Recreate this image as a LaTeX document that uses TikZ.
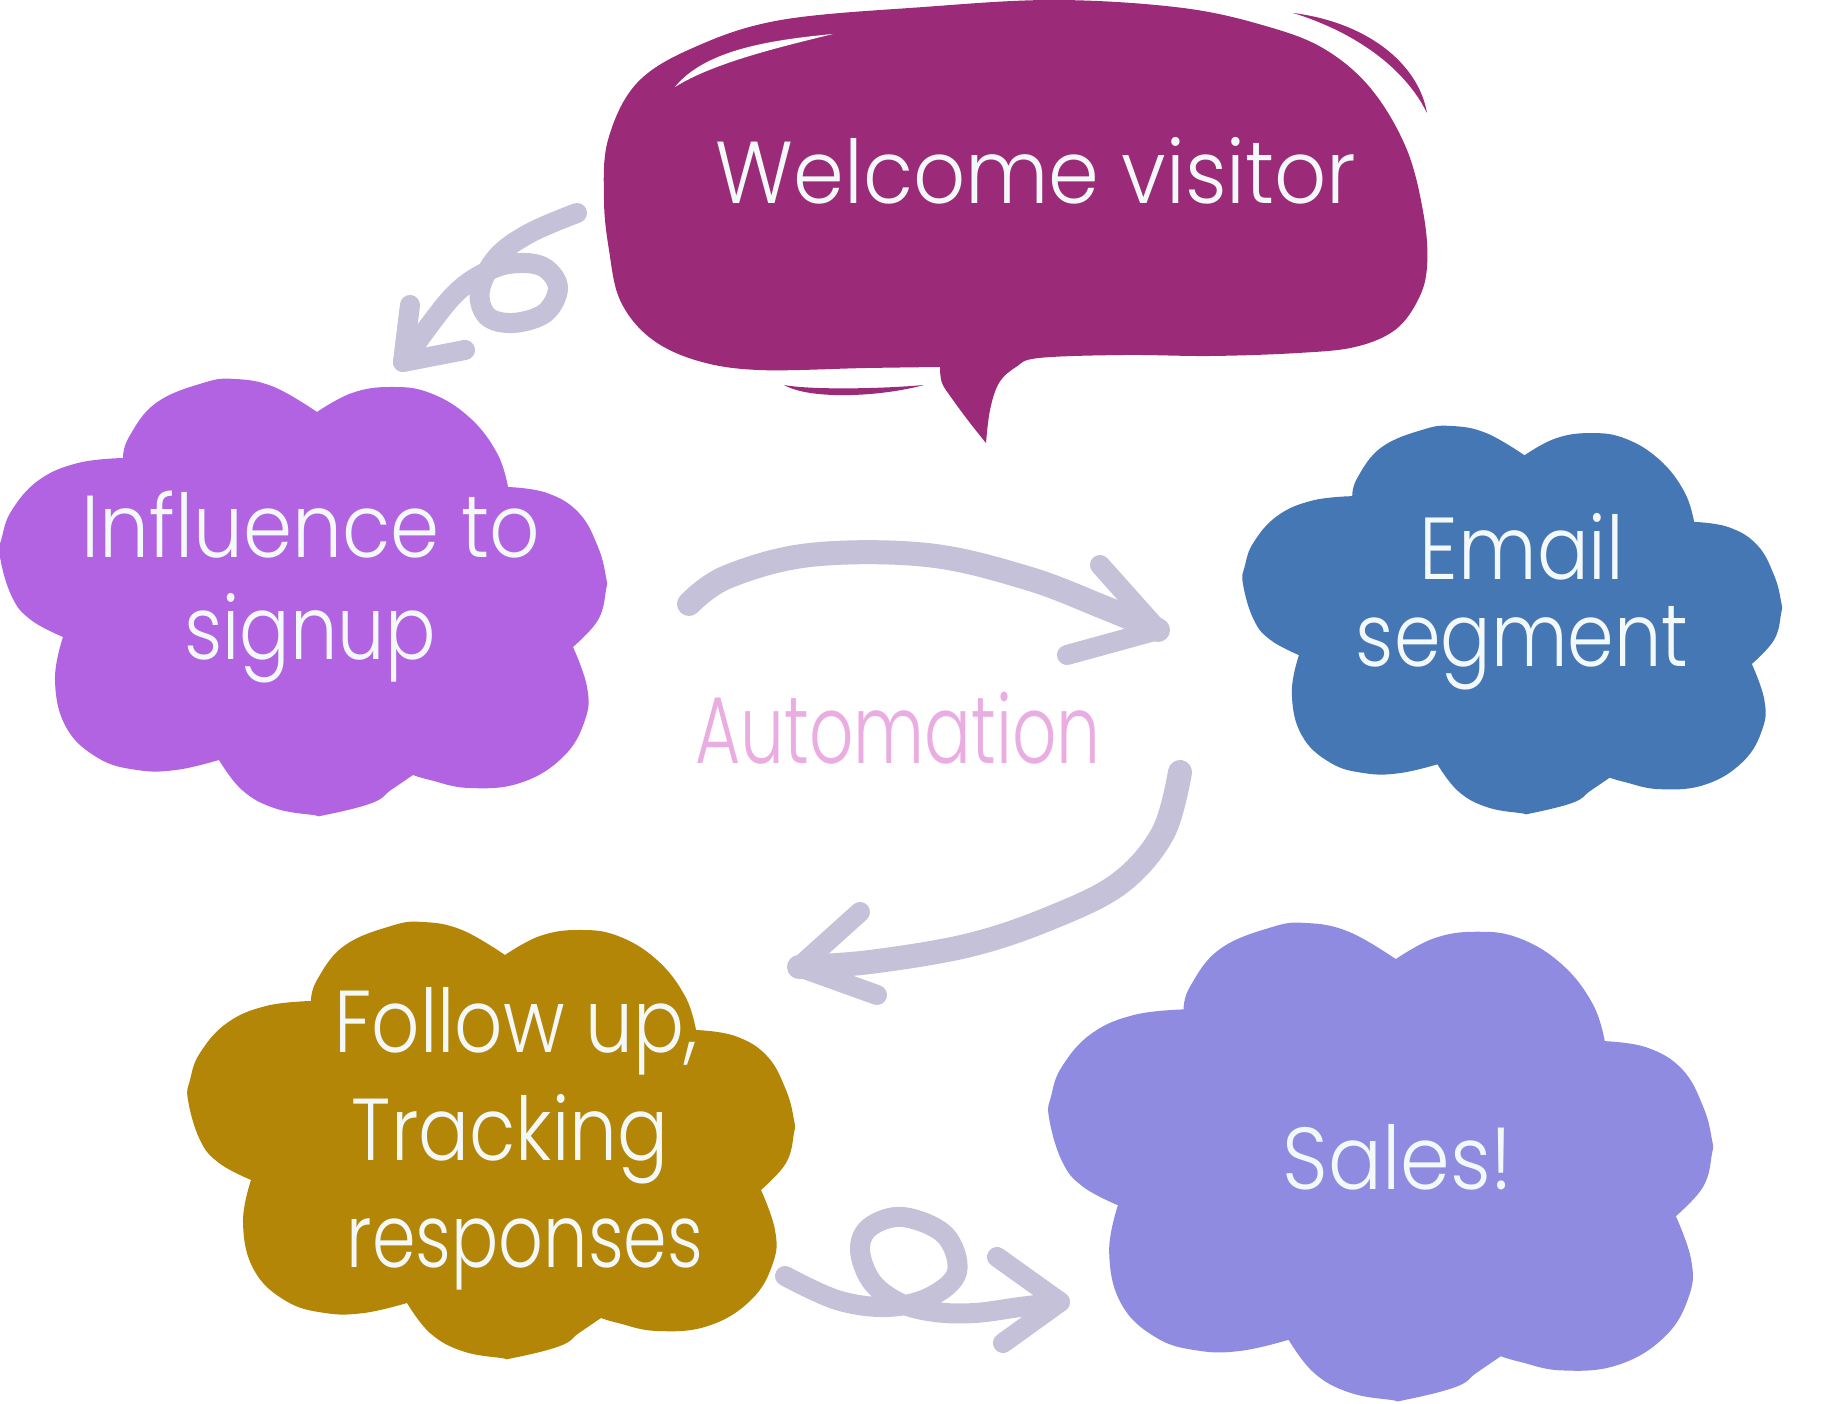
\documentclass[tikz,border=0pt]{standalone}
\usepackage{graphicx}
\usepackage{fontspec}
\setmainfont{Poppins Light}
\definecolor{bubblecol}{HTML}{9B2A78}
\definecolor{cloudA}{HTML}{B263E2}
\definecolor{cloudB}{HTML}{4577B5}
\definecolor{cloudC}{HTML}{B38607}
\definecolor{cloudD}{HTML}{8F8BE0}
\definecolor{arrowcol}{HTML}{C5C1D9}
\definecolor{autocol}{HTML}{E9ADE1}
\definecolor{txtcol}{HTML}{F3F8F8}
\newcommand{\fitw}[2]{\resizebox{#1}{\height}{#2}}
\newcommand{\cloudat}[4]{%
\begin{scope}[shift={(#1,#2)},scale=#3]
\fill[#4]
 plot[smooth,tension=0.7] coordinates {(123,79) (129,58) (156,24) (203,4) (235,0) (274,8) (317,33)}
 -- plot[smooth,tension=0.7] coordinates {(317,33) (352,14) (391,8) (430,14) (469,38) (497,74) (508,108)}
 -- plot[smooth,tension=0.7] coordinates {(508,108) (547,114) (579,134) (598,168) (606,198) (606,211) (598,241) (573,268)}
 -- plot[smooth,tension=0.7] coordinates {(573,268) (587,308) (585,341) (563,378) (520,404) (469,409) (430,401) (413,396)}
 -- plot[smooth,tension=0.7] coordinates {(413,396) (391,411) (372,424) (325,436) (313,436) (274,429) (242,411) (219,381)}
 -- plot[smooth,tension=0.7] coordinates {(219,381) (176,391) (137,391) (98,379) (66,348) (55,301) (63,258)}
 -- plot[smooth,tension=0.7] coordinates {(63,258) (31,241) (12,218) (0,178) (2,158) (12,131) (39,101) (78,84) (123,79)}
 -- cycle;
\end{scope}}
\begin{document}
\begin{tikzpicture}[x=0.01cm,y=-0.01cm,
  lbl/.style={text=txtcol,font=\fontsize{25}{30}\selectfont,anchor=base,inner sep=0pt},
  autolbl/.style={text=autocol,font=\fontsize{27}{32}\selectfont,anchor=base,inner sep=0pt},
  brush/.style={draw=arrowcol,line width=0.2cm,line cap=round,line join=round},
  widebrush/.style={brush,line width=0.24cm},
  headstroke/.style={draw=arrowcol,line width=0.2cm,line cap=round,line join=round}]
\useasboundingbox (0,0) rectangle (1829,1404);
\fill[white] (0,0) rectangle (1829,1404);

% speech bubble
\fill[bubblecol]
 plot[smooth,tension=0.6] coordinates {(940,367) (867,368) (758,370) (695,360) (649,337) (620,300) (609,250) (604,200) (608,140) (637,83) (695,47) (781,20) (924,7) (1056,0) (1183,8) (1269,27) (1326,50) (1372,90) (1407,150) (1424,217) (1427,267) (1418,300) (1395,330) (1355,347) (1298,353) (1211,356) (1125,355) (1039,358) (1016,367) (999,383) (990,410) (986,443)}
 -- plot[smooth,tension=0.6] coordinates {(986,443) (970,423) (953,400) (942,383) (940,367)}
 -- cycle;
\fill[white] (675,87) .. controls (705,50) and (770,40) .. (833,34) .. controls (780,47) and (713,63) .. cycle;
\fill[bubblecol] (1293,13) .. controls (1365,22) and (1418,62) .. (1427,113) .. controls (1405,68) and (1355,32) .. cycle;
\fill[bubblecol] (784,385) .. controls (810,400) and (880,397) .. (924,385) .. controls (880,389) and (810,390) .. cycle;
\node[lbl] (welcome) at (1036,204) {\fitw{6.40cm}{Welcome visitor}};

% clouds
\cloudat{0}{379}{1}{cloudA}
\cloudat{1243}{426}{0.888}{cloudB}
\cloudat{188}{922}{1}{cloudC}
\cloudat{1049}{923}{1.094}{cloudD}

\node[lbl] (infl1) at (311,558) {\fitw{4.58cm}{Influence to}};
\node[lbl] (infl2) at (310,660) {\fitw{2.51cm}{signup}};
\node[lbl] (email1) at (1522,580) {\fitw{2.04cm}{Email}};
\node[lbl] (email2) at (1522,667) {\fitw{3.32cm}{segment}};
\node[lbl] (follow1) at (516,1053) {\fitw{3.63cm}{Follow up,}};
\node[lbl] (follow2) at (510,1161) {\fitw{3.16cm}{Tracking}};
\node[lbl] (follow3) at (525,1268) {\fitw{3.56cm}{responses}};
\node[lbl] (sales) at (1398,1190) {\fitw{2.30cm}{Sales!}};
\node[autolbl] (auto) at (898,764) {\fitw{4.05cm}{Automation}};

% arrow A: bubble -> cloud 1
\coordinate (aS) at (577,213);
\coordinate (aT) at (403,362);
\draw[brush] plot[smooth,tension=0.6] coordinates {(aS) (530,233) (497,257) (480,290) (487,316) (513,323) (545,313) (558,288) (545,268) (520,263) (490,270) (452,297) (aT)};
\draw[headstroke] (410,305) -- (aT) -- (465,350);

% arrow B: cloud 1 -> cloud 2
\coordinate (bS) at (689,604);
\coordinate (bT) at (1158,630);
\draw[widebrush] plot[smooth,tension=0.6] coordinates {(bS) (727,577) (810,555) (927,555) (1027,578) (1103,607) (bT)};
\draw[headstroke] (1100,565) -- (bT) -- (1067,655);

% arrow C: cloud 2 -> cloud 3
\coordinate (cS) at (1180,772);
\coordinate (cT) at (799,967);
\draw[widebrush] plot[smooth,tension=0.6] coordinates {(cS) (1163,833) (1120,883) (1053,917) (970,945) (870,962) (cT)};
\draw[headstroke] (860,912) -- (cT) -- (877,995);

% arrow D: cloud 3 -> cloud 4
\coordinate (dS) at (785,1276);
\coordinate (dT) at (1060,1302);
\draw[brush] plot[smooth,tension=0.6] coordinates {(dS) (837,1300) (887,1307) (930,1297) (957,1272) (945,1235) (903,1217) (870,1227) (860,1250) (872,1282) (900,1303) (935,1312) (975,1313) (1020,1307) (dT)};
\draw[headstroke] (997,1257) -- (dT) -- (1003,1343);
\end{tikzpicture}
\end{document}
